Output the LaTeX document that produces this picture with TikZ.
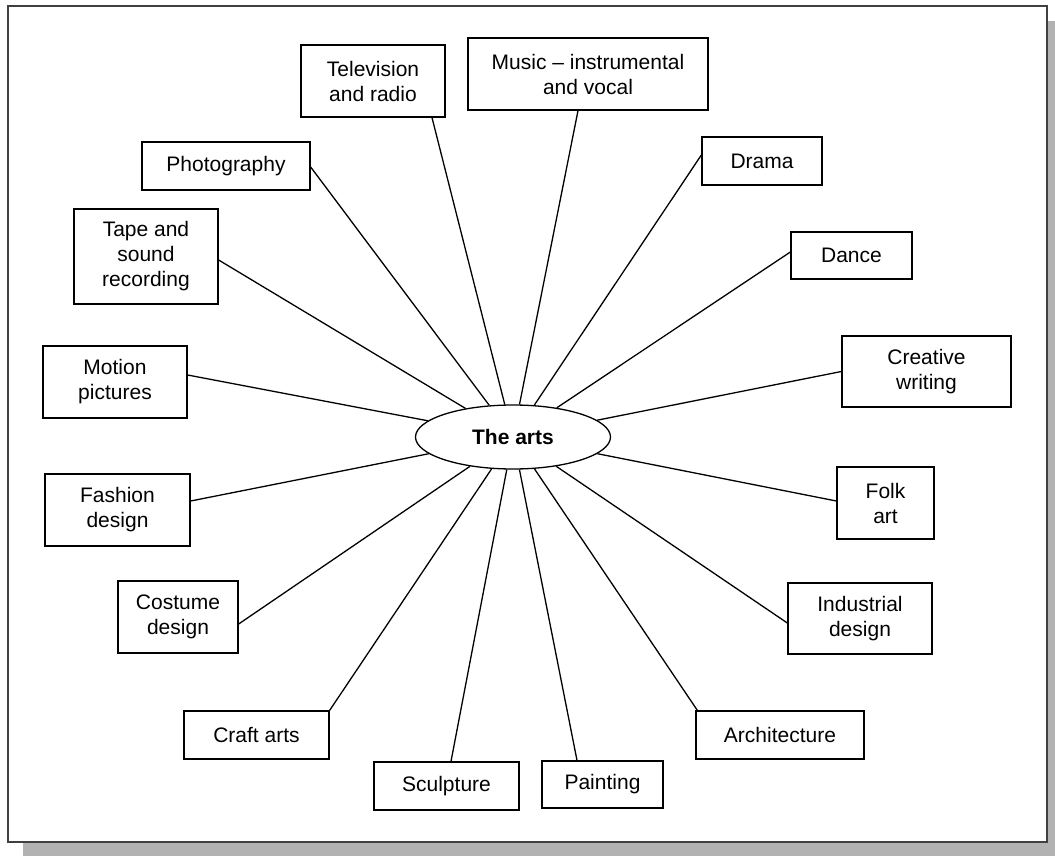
\documentclass[tikz,border=0pt]{standalone}
\usepackage{fontspec}
\setmainfont{Liberation Sans}
\usetikzlibrary{shapes.geometric}
\tikzset{
  item/.style={draw, line width=1.3pt, inner sep=0pt, align=center,
    font=\fontsize{21}{25}\selectfont},
  hub/.style={draw, ellipse, line width=1.3pt, inner sep=0pt,
    minimum width=195pt, minimum height=64pt,
    font=\fontsize{21}{25}\selectfont\bfseries},
  spoke/.style={line width=1.3pt},
}
\begin{document}
\begin{tikzpicture}[x=1pt,y=-1pt]
\useasboundingbox (0,0) rectangle (1055,856);
% shadow and frame
\fill[black!30] (23,21) rectangle (1055,856);
\draw[fill=white, line width=1.6pt, draw=black!75] (8,6) rectangle (1047,842);

\node[hub] (arts) at (513,437) {The arts};

\node[item, minimum width=144pt, minimum height=72pt] (tv) at (373,81) {Television\\and radio};
\node[item, minimum width=240pt, minimum height=72pt] (music) at (588,74) {Music -- instrumental\\and vocal};
\node[item, minimum width=168pt, minimum height=48pt] (photo) at (226,166) {Photography};
\node[item, minimum width=144pt, minimum height=95pt] (tape) at (146,256.5) {Tape and\\sound\\recording};
\node[item, minimum width=120pt, minimum height=48pt] (drama) at (762,161) {Drama};
\node[item, minimum width=121pt, minimum height=47pt] (dance) at (851.5,255.5) {Dance};
\node[item, minimum width=169pt, minimum height=71pt] (creative) at (926.5,371.5) {Creative\\writing};
\node[item, minimum width=144pt, minimum height=72pt] (motion) at (115,382) {Motion\\pictures};
\node[item, minimum width=145pt, minimum height=72pt] (fashion) at (117.5,510) {Fashion\\design};
\node[item, minimum width=97pt, minimum height=72pt] (folk) at (885.5,503) {Folk\\art};
\node[item, minimum width=120pt, minimum height=72pt] (costume) at (178,617) {Costume\\design};
\node[item, minimum width=144pt, minimum height=71pt] (industrial) at (860,618.5) {Industrial\\design};
\node[item, minimum width=145pt, minimum height=48pt] (craft) at (256.5,735) {Craft arts};
\node[item, minimum width=168pt, minimum height=48pt] (arch) at (780,735) {Architecture};
\node[item, minimum width=145pt, minimum height=48pt] (sculpt) at (446.5,786) {Sculpture};
\node[item, minimum width=121pt, minimum height=47pt] (paint) at (602.5,784.5) {Painting};

\draw[spoke] ([xshift=59pt]tv.south) -- (arts);
\draw[spoke] ([xshift=-10pt]music.south) -- (arts);
\draw[spoke] ([yshift=-1pt]photo.east) -- (arts);
\draw[spoke] ([yshift=-3.5pt]tape.east) -- (arts);
\draw[spoke] ([yshift=6pt]drama.west) -- (arts);
\draw[spoke] ([yshift=3.5pt]dance.west) -- (arts);
\draw[spoke] (creative.west) -- (arts);
\draw[spoke] ([yshift=7pt]motion.east) -- (arts);
\draw[spoke] ([yshift=9pt]fashion.east) -- (arts);
\draw[spoke] ([yshift=2pt]folk.west) -- (arts);
\draw[spoke] ([yshift=-7pt]costume.east) -- (arts);
\draw[spoke] ([yshift=-4.5pt]industrial.west) -- (arts);
\draw[spoke] (craft.north east) -- (arts);
\draw[spoke] ([xshift=2pt]arch.north west) -- (arts);
\draw[spoke] ([xshift=4.5pt]sculpt.north) -- (arts);
\draw[spoke] ([xshift=-25.5pt]paint.north) -- (arts);
\end{tikzpicture}
\end{document}
